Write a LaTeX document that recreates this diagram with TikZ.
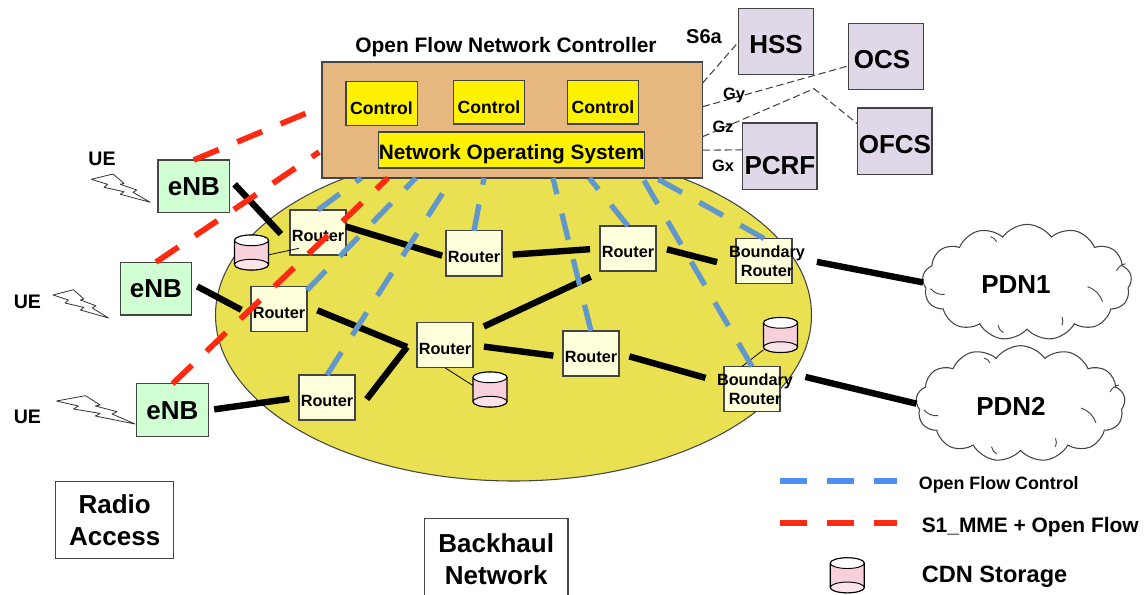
\documentclass[tikz,border=0pt]{standalone}
\usepackage{fontspec}
\setmainfont{Liberation Sans}
\usepackage{tikz}
\usetikzlibrary{shapes}
\definecolor{enbgreen}{HTML}{CFFFD2}
\definecolor{routerfill}{HTML}{FFFFDC}
\definecolor{ctrlbrown}{HTML}{E6B77F}
\definecolor{nethaul}{HTML}{EAE152}
\definecolor{corepurple}{HTML}{E0D8E8}
\definecolor{storepink}{HTML}{F8D0DC}
\definecolor{ofblue}{HTML}{6297CC}
\definecolor{ofred}{HTML}{FF2A12}
\definecolor{legendblue}{HTML}{4F8FF2}
\definecolor{edgegray}{HTML}{444444}
\tikzstyle{box}=[draw=edgegray,line width=.9pt,inner sep=0pt,outer sep=0pt,align=center]
\tikzstyle{enb}=[box,fill=enbgreen,minimum width=53.6pt,minimum height=39.6pt,font=\bfseries\fontsize{19.5}{24}\selectfont]
\tikzstyle{border}=[box,fill=routerfill,minimum width=42pt,minimum height=33.8pt,font=\bfseries\fontsize{12.2}{14.3}\selectfont]
\tikzstyle{router}=[border,text height=14.1pt,text depth=0pt]
\tikzstyle{core}=[box,fill=corepurple,minimum width=55.7pt,minimum height=50pt,text height=18.5pt,text depth=0pt,font=\bfseries\fontsize{19.5}{24}\selectfont]
\tikzstyle{control}=[box,fill=yellow,minimum width=53.4pt,minimum height=32.5pt,text height=16.6pt,text depth=0pt,font=\bfseries\fontsize{13.2}{16}\selectfont]
\tikzstyle{areabox}=[box,fill=white,font=\bfseries\fontsize{19.5}{24}\selectfont]
\tikzstyle{pdn}=[cloud,draw=edgegray,line width=.8pt,inner sep=0pt,outer sep=0pt,cloud puffs=13,cloud puff arc=110,aspect=1.8,minimum width=157pt,minimum height=87pt]
\tikzstyle{store}=[inner sep=0pt,outer sep=0pt,minimum width=25.5pt,minimum height=26.2pt]
\tikzstyle{wire}=[draw,line width=4.8pt,-]
\tikzstyle{ofctl}=[draw=ofblue,line width=4pt,dash pattern=on 20.25pt off 15pt]
\tikzstyle{s1mme}=[draw=ofred,line width=4.3pt,dash pattern=on 20.25pt off 15pt]
\tikzstyle{iface}=[draw=edgegray,line width=.8pt,dash pattern=on 5.5pt off 2.7pt]
\tikzstyle{leaf}=[draw=black,line width=.6pt]
\tikzstyle{bolt}=[draw=black!80,line width=.6pt,fill=white,line join=round]
\tikzstyle{caption}=[inner sep=0pt,font=\bfseries]
\newcommand{\overhang}[1]{\makebox[0pt]{\hspace{4.5pt}#1}}
\newcommand{\cdnstore}[2]{%
  \node[store] (#1) at (#2) {};
  \draw[line width=.9pt,fill=storepink] ([yshift=-4pt]#1.north west) -- ([yshift=4pt]#1.south west)
    arc[start angle=180,end angle=360,x radius=12.75pt,y radius=4pt]
    -- ([yshift=-4pt]#1.north east) arc[start angle=0,end angle=180,x radius=12.75pt,y radius=4pt] -- cycle;
  \draw[line width=.7pt,fill=white] ([yshift=-4pt]#1.north) ellipse [x radius=12.75pt,y radius=4pt];
  \draw[line width=.7pt,fill=storepink!60!white] ([yshift=4pt]#1.south) ellipse [x radius=12.75pt,y radius=4pt];
}
\begin{document}
\begin{tikzpicture}[x=.75pt,y=-.75pt]
        \useasboundingbox (0,0) rectangle (1144,595);

        \node[ellipse,draw=edgegray,line width=.8pt,fill=nethaul,inner sep=0pt,minimum width=447pt,minimum height=249pt] (haul) at (513.5,315) {};
        \node[box,fill=ctrlbrown,minimum width=285.5pt,minimum height=87pt] (ctrl) at (512.3,120) {};
        \node[caption,font=\bfseries\fontsize{15.7}{18}\selectfont] (ctrltitle) at (506,47) {Open Flow Network Controller};
        \node[control] (c1) at (381.5,103.5) {Control};
        \node[control] (c2) at (489,102.3) {Control};
        \node[control] (c3) at (603,102.3) {Control};
        \node[box,fill=yellow,minimum width=198.4pt,minimum height=27pt,text height=17.3pt,text depth=3.3pt,font=\bfseries\fontsize{15.6}{18}\selectfont] (nos) at (511.8,150) {Network Operating System};

        \node[core] (hss) at (776,41.5) {HSS};
        \node[core] (ocs) at (886,56.5) {OCS\hspace*{6pt}};
        \node[core,text height=27.5pt] (pcrf) at (779.9,156.4) {PCRF};
        \node[core] (ofcs) at (894.9,141.4) {OFCS};
        \coordinate (gzbend) at (814,88.7);
        \draw[iface] (ctrl.11.9) to (hss.west);
        \draw[iface] (ctrl.4.2) to (ocs.194);
        \draw[iface] (ctrl.-5.25) to (gzbend) to (ofcs.155);
        \draw[iface] (ctrl.-9) to (pcrf.170.2);
        \node[caption,font=\bfseries\fontsize{15}{18}\selectfont] (s6a) at (704,37) {S6a};
        \node[caption,font=\bfseries\fontsize{12.3}{15}\selectfont] (gy) at (734,95) {Gy};
        \node[caption,font=\bfseries\fontsize{12.3}{15}\selectfont] (gz) at (723,127) {Gz};
        \node[caption,font=\bfseries\fontsize{12.3}{15}\selectfont] (gx) at (723,166) {Gx};

        \node[enb] (enb1) at (193.8,186.4) {eNB};
        \node[enb] (enb2) at (156,288.5) {eNB};
        \node[enb] (enb3) at (172.5,410.2) {eNB};
        \node[router] (r1) at (318,232.5) {Router};
        \node[router] (r2) at (474,253.4) {Router};
        \node[router] (r3) at (628,248.5) {Router};
        \node[border] (br1) at (764,261) {\overhang{Boundary}\\\overhang{Router}};
        \node[router] (r4) at (279,309) {Router};
        \node[router] (r5) at (445,345.2) {Router};
        \node[router] (r6) at (327,397.5) {Router};
        \node[router] (r7) at (591,353.5) {Router};
        \node[border] (br2) at (752,389) {\overhang{Boundary}\\\overhang{Router}};
        \node[pdn] (pdn1) at (1027,282.4) {};
        \node[pdn] (pdn2) at (1020.5,403.7) {};
        \node[caption,font=\bfseries\fontsize{19.5}{24}\selectfont] (pdn1text) at (1016,285) {PDN1};
        \node[caption,font=\bfseries\fontsize{19.5}{24}\selectfont] (pdn2text) at (1011,406.7) {PDN2};
        \foreach \cx/\cy in {1027/282.4,1020.5/403.7} {
          \draw[edgegray,line width=.7pt,shift={(\cx,\cy)}] (-96.5,6.3) to[bend right=25] (-82.5,12)
            (-36.5,-45.7) to[bend left=25] (-30.5,-40.7) (60.5,4.3) to[bend left=25] (75.5,19.3)
            (89.5,-11.7) to[bend left=25] (98.5,-18.7) (-29,43) to[bend right=25] (-23.5,50.3) (35,34.6) to[bend left=20] (35,43);
        }
        \coordinate (jn) at (407,347);

        % backhaul links
        \draw[wire,shorten <=5.6pt,shorten >=10pt] (enb1.12) to (r1.202);
        \draw[wire,shorten >=3pt] (r1.12.5) to (r2.187.3);
        \draw[wire,shorten <=8pt,shorten >=7.5pt] (r2.-4.9) to (r3.west);
        \draw[wire,shorten <=8.5pt,shorten >=14.7pt] (r3.4.9) to (br1.192);
        \draw[wire,shorten <=19pt] (br1.8.7) to (pdn1.west);
        \draw[wire,shorten <=4.7pt,shorten >=8.2pt] (enb2.8.8) to (r4.192.3);
        \draw[wire,shorten <=8.4pt] (r4.6.7) to (jn);
        \draw[wire,shorten >=14.4pt] (jn) to (r6.-31);
        \draw[wire,shorten <=4.5pt,shorten >=7.3pt] (enb3.east) to (r6.west);
        \draw[wire,shorten <=9pt,shorten >=10.2pt] (r5.26.8) to (r3.222.4);
        \draw[wire,shorten <=8.3pt,shorten >=7.3pt] (r5.east) to (r7.187);
        \draw[wire,shorten <=8pt,shorten >=14.4pt] (r7.east) to (br2.168);
        \draw[wire,shorten <=19.6pt] (br2.33) to (pdn2.west);

        % cdn storage
        \cdnstore{d1}{251.5,252.5}
        \cdnstore{d2}{490,389.5}
        \cdnstore{d3}{780.5,335}
        \draw[leaf] (d1.-8) to ([xshift=6.5pt,yshift=5pt]r1.south west);
        \draw[leaf] (r5.south) to (d2.167);
        \draw[leaf] (d3.221) to (br2.114);

        % open flow control
        \draw[ofctl] (r1.north) to (ctrl.201.8);
        \draw[ofctl] (r4.34.9) to (ctrl.211.4);
        \draw[ofctl] (r6.north) to (ctrl.224);
        \draw[ofctl] (r2.north) to (ctrl.244.2);
        \draw[ofctl] (r7.north) to (ctrl.305.3);
        \draw[ofctl] (r3.north) to (ctrl.323.4);
        \draw[ofctl] (br2.north) to (ctrl.336.4);
        \draw[ofctl] (br1.north) to (ctrl.338.7);

        % s1 mme
        \draw[s1mme] (enb1.north) to (ctrl.176.7);
        \draw[s1mme,shorten >=2.5pt] (enb2.north) to (ctrl.189.3);
        \draw[s1mme] (enb3.north) to (ctrl.205.8);

        % ue radio links
        \foreach \bx/\by/\sx in {91.2/179.3/1, 53/295/.94, 56.5/401/1.33} {
          \draw[bolt,shift={(\bx,\by)},xscale=\sx] (0,0) -- (21.8,-5.3) -- (32.8,4) -- (29.2,5) -- (45.6,10.7) -- (41.8,13) -- (59.1,23) -- (29.2,15) -- (32.8,12.4) -- (12.8,8) -- (16.4,5) -- cycle;
        }
        \node[caption,font=\bfseries\fontsize{14.7}{18}\selectfont] (ue1) at (102,159) {UE};
        \node[caption,font=\bfseries\fontsize{14.7}{18}\selectfont] (ue2) at (27.4,302) {UE};
        \node[caption,font=\bfseries\fontsize{14.7}{18}\selectfont] (ue3) at (27.4,416.5) {UE};

        \node[areabox,minimum width=88.4pt,minimum height=57.7pt] (radio) at (114.7,519.8) {Radio\\Access};
        \node[areabox,minimum width=107.8pt,minimum height=61pt] (backhaul) at (496.2,559.5) {Backhaul\\Network};

        % legend
        \coordinate (blue0) at (780,481);
        \coordinate (blue1) at (897,481);
        \coordinate (red0) at (780,523);
        \coordinate (red1) at (897,523);
        \draw[draw=legendblue,line width=5pt,dash pattern=on 20.25pt off 15pt] (blue0) to (blue1);
        \draw[draw=ofred,line width=5pt,dash pattern=on 20.25pt off 15pt] (red0) to (red1);
        \cdnstore{d4}{847.3,575.3}
        \node[caption,anchor=west,font=\bfseries\fontsize{13.4}{16}\selectfont] (lg1) at (918.6,485) {Open Flow Control};
        \node[caption,anchor=west,font=\bfseries\fontsize{15.7}{18}\selectfont] (lg2) at (921.5,527) {S1\_MME + Open Flow};
        \node[caption,anchor=west,font=\bfseries\fontsize{17.7}{20}\selectfont] (lg3) at (921.5,577) {CDN Storage};
\end{tikzpicture}
\end{document}
